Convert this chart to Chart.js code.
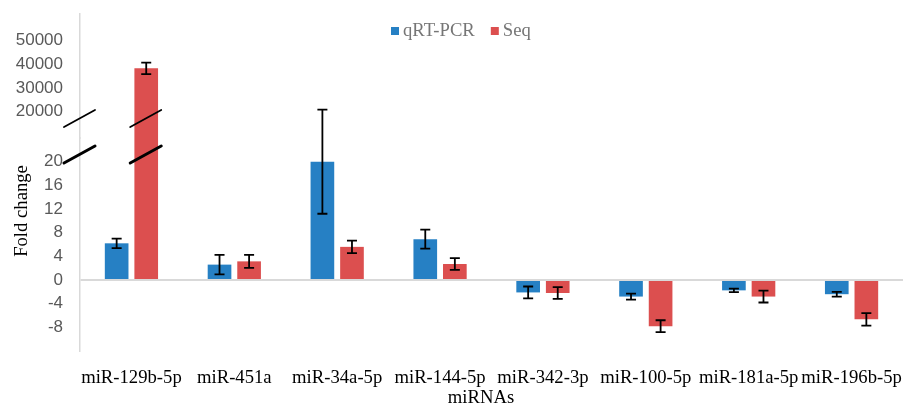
<!DOCTYPE html>
<html>
<head>
<meta charset="utf-8">
<script src="https://cdn.jsdelivr.net/npm/chart.js@4.4.1/dist/chart.umd.min.js"></script>
<style>
  html, body { margin: 0; padding: 0; background: #fff; }
</style>
</head>
<body>
<canvas id="chart" width="903" height="408"></canvas>
<script>
// Fold change per miRNA, qRT-PCR vs sequencing. Y axis is broken: -12..24 below, 9000..61000 above.

const CATEGORIES = ["miR-129b-5p", "miR-451a", "miR-34a-5p", "miR-144-5p", "miR-342-3p", "miR-100-5p", "miR-181a-5p", "miR-196b-5p"];
const QPCR = [6.2, 2.6, 20.0, 6.9, -2.1, -2.8, -1.75, -2.4];
const QPCR_ERR = [0.8, 1.65, 8.8, 1.6, 1.0, 0.5, 0.3, 0.4];
const SEQ = [38200, 3.15, 5.6, 2.7, -2.2, -7.8, -2.8, -6.65];
const SEQ_ERR = [2400, 1.1, 1.05, 1.0, 1.0, 1.0, 1.0, 1.05];

const LOWER_TICKS = [-8, -4, 0, 4, 8, 12, 16, 20];
const UPPER_TICKS = [20000, 30000, 40000, 50000];
const LOWER_RANGE = [-12, 24];
const UPPER_RANGE = [9000, 61000];

const BLUE = "#2680c4";
const RED = "#dc4f4f";
const SERIF = "'Liberation Serif', 'Times New Roman', serif";
const SANS = "'Liberation Sans', Arial, sans-serif";

// the Seq bar is split: capped part on the lower scale, remainder on the upper scale
const seqLower = SEQ.map((v) => Math.min(v, LOWER_RANGE[1]));
const seqUpper = SEQ.map((v) => (v > LOWER_RANGE[1] ? [UPPER_RANGE[0], v] : null));

const errorBars = {
  id: "errorBars",
  afterDatasetsDraw(chart) {
    const ctx = chart.ctx;
    ctx.save();
    ctx.strokeStyle = "#000";
    ctx.lineWidth = 1.8;
    [[QPCR, QPCR_ERR], [SEQ, SEQ_ERR]].forEach(([vals, errs], di) => {
      const meta = chart.getDatasetMeta(di);
      vals.forEach((v, i) => {
        const scale = v > LOWER_RANGE[1] ? chart.scales.y2 : chart.scales.y;
        const x = meta.data[i].x;
        const top = scale.getPixelForValue(v + errs[i]);
        const bot = scale.getPixelForValue(v - errs[i]);
        ctx.beginPath();
        ctx.moveTo(x, top); ctx.lineTo(x, bot);
        ctx.moveTo(x - 5, top); ctx.lineTo(x + 5, top);
        ctx.moveTo(x - 5, bot); ctx.lineTo(x + 5, bot);
        ctx.stroke();
      });
    });
    ctx.restore();
  },
};

const breakMarks = {
  id: "breakMarks",
  afterDatasetsDraw(chart) {
    const ctx = chart.ctx;
    const yb = chart.scales.y.top;
    const xs = [chart.scales.y.right];
    const seqMeta = chart.getDatasetMeta(1);
    SEQ.forEach((v, i) => { if (v > LOWER_RANGE[1]) xs.push(seqMeta.data[i].x); });
    ctx.save();
    ctx.strokeStyle = "#000";
    ctx.lineCap = "round";
    xs.forEach((x) => {
      ctx.lineWidth = 1.8;
      ctx.beginPath();
      ctx.moveTo(x - 16, yb - 11); ctx.lineTo(x + 15, yb - 28);
      ctx.stroke();
      ctx.lineWidth = 3;
      ctx.beginPath();
      ctx.moveTo(x - 16, yb + 25); ctx.lineTo(x + 15, yb + 8);
      ctx.stroke();
    });
    ctx.restore();
  },
};

const labelsAndLegend = {
  id: "labelsAndLegend",
  afterDraw(chart) {
    const ctx = chart.ctx;
    ctx.save();
    ctx.fillStyle = "#000";
    ctx.font = "18.67px " + SERIF;
    ctx.textBaseline = "middle";
    ctx.textAlign = "center";
    ctx.fillText("miRNAs", 481, 398);
    ctx.translate(22, 211);
    ctx.rotate(-Math.PI / 2);
    ctx.fillText("Fold change", 0, 0);
    ctx.restore();

    // legend
    ctx.save();
    ctx.font = "18.67px " + SERIF;
    ctx.textBaseline = "middle";
    ctx.textAlign = "left";
    let x = 391;
    const y = 31;
    [["qRT-PCR", BLUE], ["Seq", RED]].forEach(([label, color]) => {
      ctx.fillStyle = color;
      ctx.fillRect(x, y - 4, 8, 8);
      ctx.fillStyle = "#767676";
      ctx.fillText(label, x + 12, y);
      x += 12 + ctx.measureText(label).width + 16;
    });
    ctx.restore();
  },
};

const yCommon = {
  type: "linear",
  position: "left",
  stack: "fold",
  stacked: false,
  border: { display: true, color: "#d9d9d9", width: 1.5 },
  ticks: {
    color: "#595959",
    font: { family: SANS, size: 17 },
    padding: 17,
    autoSkip: false,
    callback: (v) => String(v),
  },
  afterFit(scale) {
    scale.width = 80;
    scale.paddingTop = 0;
    scale.paddingBottom = 0;
  },
};

new Chart(document.getElementById("chart"), {
  type: "bar",
  data: {
    labels: CATEGORIES,
    datasets: [
      { label: "qRT-PCR", data: QPCR, backgroundColor: BLUE, yAxisID: "y", stack: "q" },
      { label: "Seq", data: seqLower, backgroundColor: RED, yAxisID: "y", stack: "s" },
      { label: "Seq upper", data: seqUpper, backgroundColor: RED, yAxisID: "y2", stack: "s" },
    ],
  },
  options: {
    responsive: false,
    animation: false,
    devicePixelRatio: 1,
    layout: { padding: { top: 14, left: 0, right: 0, bottom: 0 } },
    datasets: { bar: { barPercentage: 0.8, categoryPercentage: 0.575 } },
    plugins: { legend: { display: false }, tooltip: { enabled: false } },
    scales: {
      x: {
        type: "category",
        grid: { display: false },
        border: { display: false },
        ticks: { color: "#000", font: { family: SERIF, size: 18.67 }, autoSkip: false, maxRotation: 0, padding: 8 },
        afterFit(scale) {
          scale.height = 57;
          scale.paddingLeft = 0;
          scale.paddingRight = 0;
        },
      },
      y: {
        ...yCommon,
        min: LOWER_RANGE[0],
        max: LOWER_RANGE[1],
        stackWeight: 213,
        afterBuildTicks(scale) { scale.ticks = LOWER_TICKS.map((v) => ({ value: v })); },
        grid: {
          drawTicks: false,
          color: (c) => (c.tick && c.tick.value === 0 ? "#d9d9d9" : "transparent"),
          lineWidth: 2,
        },
      },
      y2: {
        ...yCommon,
        min: UPPER_RANGE[0],
        max: UPPER_RANGE[1],
        stackWeight: 124,
        afterBuildTicks(scale) { scale.ticks = UPPER_TICKS.map((v) => ({ value: v })); },
        grid: { display: false, drawTicks: false },
      },
    },
  },
  plugins: [errorBars, breakMarks, labelsAndLegend],
});
</script>
</body>
</html>
